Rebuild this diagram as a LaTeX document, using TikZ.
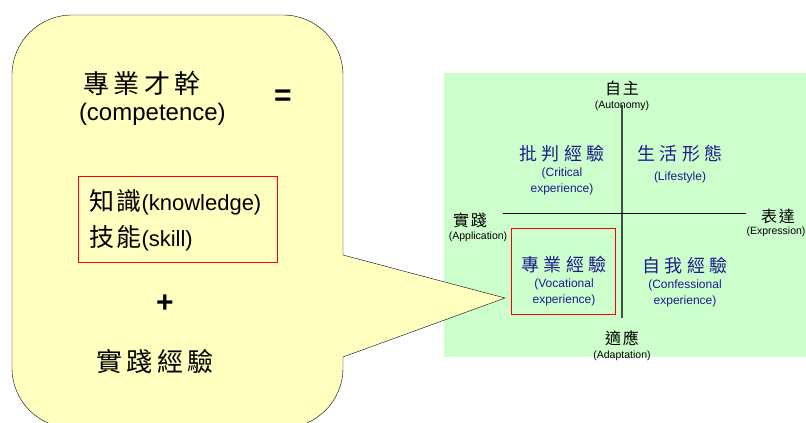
\documentclass[tikz,border=0pt]{standalone}
\usepackage{fontspec}
\setmainfont{Liberation Sans}
\newfontfamily\cjk[LetterSpace=25]{Noto Sans CJK TC}
\newfontfamily\cjkwide[LetterSpace=17]{Noto Sans CJK TC}
\newfontfamily\cjkmid[LetterSpace=10]{Noto Sans CJK TC}
\usetikzlibrary{positioning}
\definecolor{calloutyellow}{RGB}{255,255,192}
\definecolor{panelgreen}{RGB}{204,255,204}
\definecolor{quadblue}{RGB}{28,28,140}
\definecolor{axisgray}{RGB}{70,80,70}

\begin{document}
\begin{tikzpicture}[x=1pt,y=-1pt,every node/.style={inner sep=0pt,outer sep=0pt},
	bigcjk/.style={font=\cjkwide\fontsize{26}{30}\selectfont},
	bigtext/.style={font=\fontsize{24}{28}\selectfont},
	midtext/.style={font=\fontsize{22}{26}\selectfont,anchor=west},
	sign/.style={font=\bfseries\fontsize{30}{32}\selectfont},
	quadtitle/.style={text=quadblue,font=\cjk\fontsize{18}{21}\selectfont},
	quadsub/.style={text=quadblue,align=center,font=\fontsize{12}{16}\selectfont},
	axiscjk/.style={font=\cjkmid\fontsize{16}{18}\selectfont},
	axissub/.style={font=\fontsize{10.5}{12}\selectfont},
	redbox/.style={draw=red,line width=0.8pt}]
	\useasboundingbox (0,0) rectangle (806,423);
	\clip (0,0) rectangle (806,423);
	% quadrant panel
	\fill[panelgreen] (444,73) rectangle (806,357);
	\draw[axisgray,line width=1.3pt] (622,105) coordinate (top) -- (622,318) coordinate (bottom);
	\draw[line width=0.8pt] (503,213) coordinate (left) -- (746,213) coordinate (right);
	\node[axiscjk] (auto) at (622,88) {自主};
	\node[axissub] (autoen) at (622,106) {(Autonomy)};
	\node[axiscjk] (appl) at (470,220) {實踐};
	\node[axissub] (applen) at (478,237) {(Application)};
	\node[axiscjk] (expr) at (778,216) {表達};
	\node[axissub] (expren) at (776,232) {(Expression)};
	\node[axiscjk] (adap) at (622,338) {適應};
	\node[axissub] (adapen) at (622,356) {(Adaptation)};
	\node[quadtitle] (crit) at (562,154) {批判經驗};
	\node[quadsub,below=5pt of crit] (criten) {(Critical\\experience)};
	\node[quadtitle] (life) at (680,154) {生活形態};
	\node[quadsub,below=9pt of life] (lifeen) {(Lifestyle)};
	\node[quadtitle] (voc) at (564,265) {專業經驗};
	\node[quadsub,below=5pt of voc] (vocen) {(Vocational\\experience)};
	\node[quadtitle] (conf) at (685,266) {自我經驗};
	\node[quadsub,below=5pt of conf] (confen) {(Confessional\\experience)};
	\draw[redbox] (511,228) rectangle (615,314);
	% callout
	\coordinate (tip) at (505,298);
	\filldraw[fill=calloutyellow,rounded corners=60pt] (12,15) rectangle (343,428);
	\fill[calloutyellow] (342,255) -- (tip) -- (342,357) -- cycle;
	\draw (343,255) -- (tip) -- (343,357);
	\node[bigcjk] (comp) at (142,83) {專業才幹};
	\node[bigtext,anchor=west] (compen) at (79,114) {(competence)};
	\node[sign] (eq) at (283,98) {=};
	\draw[redbox] (78,176) rectangle (277,262);
	\node[midtext] (know) at (89,202) {{\cjkmid\fontsize{25}{26}\selectfont 知識}(knowledge)};
	\node[midtext] (skill) at (89,238) {{\cjkmid\fontsize{25}{26}\selectfont 技能}(skill)};
	\node[sign] (plus) at (165,304) {+};
	\node[bigcjk] (prac) at (155,362) {實踐經驗};
\end{tikzpicture}
\end{document}
